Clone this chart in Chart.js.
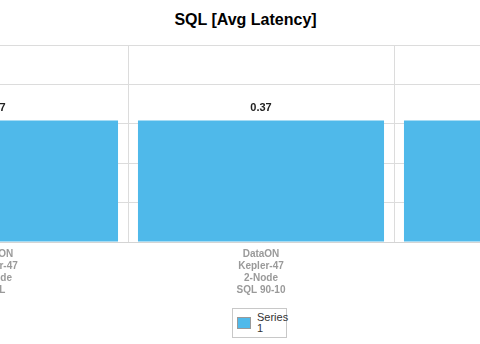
<!DOCTYPE html>
<html>
<head>
<meta charset="utf-8">
<script src="https://cdn.jsdelivr.net/npm/chart.js@4/dist/chart.umd.min.js"></script>
<style>
  html, body { margin: 0; padding: 0; background: #fff; overflow: hidden; }
  #wrap { position: relative; width: 480px; height: 344px; overflow: hidden; }
  #title {
    position: absolute; left: 0; top: 11px; width: 491px; text-align: center;
    font: bold 16px "Liberation Sans", Arial, sans-serif; color: #000;
  }
  #chart { position: absolute; left: -138px; top: 0; }
  #legend {
    position: absolute; left: 232px; top: 308px; width: 53px; height: 28px;
    border: 1px solid #c8c8c8;
    font: 11px "Liberation Sans", Arial, sans-serif; color: #333;
  }
  #legend .box {
    position: absolute; left: 4px; top: 8px; width: 12px; height: 10px;
    background: #4fb9ea; border: 1px solid #999;
  }
  #legend .txt { position: absolute; left: 24px; top: 3px; width: 30px; line-height: 11px; }
</style>
</head>
<body>
<div id="wrap">
  <div id="title">SQL [Avg Latency]</div>
  <canvas id="chart" width="798" height="300"></canvas>
  <div id="legend"><span class="box"></span><span class="txt">Series 1</span></div>
</div>
<script>
// du lieu cua chart
var categories = [
  ["DataON", "Kepler-47", "2-Node", "SQL"],
  ["DataON", "Kepler-47", "2-Node", "SQL 90-10"],
  ["DataON", "Kepler-47", "2-Node", "SQL 70-30"]
];
var seriesName = "Series 1";
var seriesValues = [0.37, 0.37, 0.37];
var yTicks = [0, 0.12, 0.24, 0.36, 0.48, 0.6];

// ve so tren dau moi cot
var valueLabels = {
  id: "valueLabels",
  afterDatasetsDraw: function (chart) {
    var ctx = chart.ctx;
    var meta = chart.getDatasetMeta(0);
    ctx.save();
    ctx.font = "bold 11px 'Liberation Sans', Arial, sans-serif";
    ctx.fillStyle = "#222";
    ctx.textAlign = "center";
    ctx.textBaseline = "bottom";
    meta.data.forEach(function (bar, i) {
      ctx.fillText(seriesValues[i].toFixed(2), bar.x, bar.y - 7);
    });
    ctx.restore();
  },
};

var ctx = document.getElementById("chart").getContext("2d");
var barChart = new Chart(ctx, {
  type: "bar",
  data: {
    labels: categories,
    datasets: [
      {
        label: seriesName,
        data: seriesValues,
        backgroundColor: "#4fb9ea",
        borderWidth: 0,
        categoryPercentage: 1,
        barPercentage: 0.925,
      },
    ],
  },
  options: {
    responsive: false,
    animation: false,
    devicePixelRatio: 1,
    layout: { padding: { top: 45, left: 0, right: 0, bottom: 0 } },
    plugins: {
      legend: { display: false },
      title: { display: false },
      tooltip: { enabled: false },
    },
    scales: {
      x: {
        grid: { color: "#dcdcdc", drawTicks: false, offset: true },
        border: { color: "#d4d4d4" },
        ticks: {
          padding: 6,
          maxRotation: 0,
          color: "#9a9a9a",
          font: { family: "'Liberation Sans', Arial, sans-serif", size: 10, weight: "bold", lineHeight: 1.2 },
        },
        afterFit: function (scale) {
          scale.height = 58;
        },
      },
      y: {
        display: true,
        min: yTicks[0],
        max: yTicks[yTicks.length - 1],
        afterBuildTicks: function (scale) {
          scale.ticks = yTicks.map(function (v) { return { value: v }; });
        },
        grid: { color: "#dcdcdc", drawTicks: false },
        border: { display: false },
        ticks: { display: false },
        afterFit: function (scale) {
          scale.width = 0;
        },
      },
    },
  },
  plugins: [valueLabels],
});
</script>
</body>
</html>
